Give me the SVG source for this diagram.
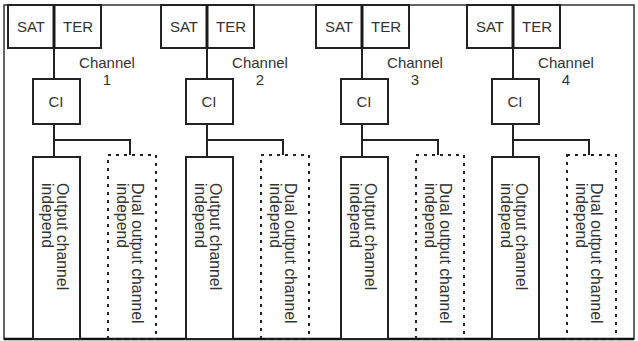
<svg xmlns="http://www.w3.org/2000/svg" width="638" height="341" viewBox="0 0 638 341">
<style>
.box{fill:#fff;stroke:#222;stroke-width:2}
.dot{fill:none;stroke:#222;stroke-width:2;stroke-dasharray:3 5}
.ln{fill:none;stroke:#222;stroke-width:2}
.div{fill:none;stroke:#1a1a1a;stroke-width:3}
.t{font-family:"Liberation Sans",Arial,sans-serif;font-size:15px;fill:#333}
.r{font-size:15.8px}
.c{text-anchor:middle}
</style>
<rect x="0" y="0" width="638" height="341" fill="#fff"/>
<rect x="4" y="5" width="630" height="334" fill="none" stroke="#333" stroke-width="1.5"/>
<line x1="4" y1="339" x2="634" y2="339" stroke="#111" stroke-width="2.5"/>
<g id="connectors">
<path class="ln" d="M54 48V79M54 124V157M54 140H130V155"/>
<path class="ln" d="M207 48V79M207 124V157M207 140H283V155"/>
<path class="ln" d="M362 48V79M362 124V157M362 140H438V155"/>
<path class="ln" d="M513 48V79M513 124V157M513 140H589V155"/>
</g>
<g id="col1">
<g id="sat1"><rect class="box" x="8" y="5" width="46" height="43"/><text class="t c" x="31" y="32">SAT</text></g>
<g id="ter1"><rect class="box" x="54" y="5" width="47" height="43"/><text class="t c" x="78" y="32">TER</text></g>
<line class="div" x1="54" y1="5" x2="54" y2="48"/>
<g id="label1"><text class="t c" x="107" y="68">Channel</text><text class="t c" x="107" y="85">1</text></g>
<g id="ci1"><rect class="box" x="33" y="79" width="47" height="45"/><text class="t c" x="56" y="107">CI</text></g>
<g id="out1"><rect class="box" x="33" y="157" width="47" height="182"/><text class="t r" transform="translate(57,183) rotate(90)"><tspan x="0" y="0">Output channel</tspan><tspan x="0" y="15">independ</tspan></text></g>
<g id="dual1"><rect class="dot" x="108" y="155" width="48" height="184"/><text class="t r" transform="translate(132,183) rotate(90)"><tspan x="0" y="0">Dual output channel</tspan><tspan x="0" y="15">independ</tspan></text></g>
</g>
<g id="col2">
<g id="sat2"><rect class="box" x="161" y="5" width="46" height="43"/><text class="t c" x="184" y="32">SAT</text></g>
<g id="ter2"><rect class="box" x="207" y="5" width="47" height="43"/><text class="t c" x="231" y="32">TER</text></g>
<line class="div" x1="207" y1="5" x2="207" y2="48"/>
<g id="label2"><text class="t c" x="260" y="68">Channel</text><text class="t c" x="260" y="85">2</text></g>
<g id="ci2"><rect class="box" x="186" y="79" width="47" height="45"/><text class="t c" x="209" y="107">CI</text></g>
<g id="out2"><rect class="box" x="186" y="157" width="47" height="182"/><text class="t r" transform="translate(210,183) rotate(90)"><tspan x="0" y="0">Output channel</tspan><tspan x="0" y="15">independ</tspan></text></g>
<g id="dual2"><rect class="dot" x="261" y="155" width="48" height="184"/><text class="t r" transform="translate(285,183) rotate(90)"><tspan x="0" y="0">Dual output channel</tspan><tspan x="0" y="15">independ</tspan></text></g>
</g>
<g id="col3">
<g id="sat3"><rect class="box" x="316" y="5" width="46" height="43"/><text class="t c" x="339" y="32">SAT</text></g>
<g id="ter3"><rect class="box" x="362" y="5" width="47" height="43"/><text class="t c" x="386" y="32">TER</text></g>
<line class="div" x1="362" y1="5" x2="362" y2="48"/>
<g id="label3"><text class="t c" x="415" y="68">Channel</text><text class="t c" x="415" y="85">3</text></g>
<g id="ci3"><rect class="box" x="341" y="79" width="47" height="45"/><text class="t c" x="364" y="107">CI</text></g>
<g id="out3"><rect class="box" x="341" y="157" width="47" height="182"/><text class="t r" transform="translate(365,183) rotate(90)"><tspan x="0" y="0">Output channel</tspan><tspan x="0" y="15">independ</tspan></text></g>
<g id="dual3"><rect class="dot" x="416" y="155" width="48" height="184"/><text class="t r" transform="translate(440,183) rotate(90)"><tspan x="0" y="0">Dual output channel</tspan><tspan x="0" y="15">independ</tspan></text></g>
</g>
<g id="col4">
<g id="sat4"><rect class="box" x="467" y="5" width="46" height="43"/><text class="t c" x="490" y="32">SAT</text></g>
<g id="ter4"><rect class="box" x="513" y="5" width="47" height="43"/><text class="t c" x="537" y="32">TER</text></g>
<line class="div" x1="513" y1="5" x2="513" y2="48"/>
<g id="label4"><text class="t c" x="566" y="68">Channel</text><text class="t c" x="566" y="85">4</text></g>
<g id="ci4"><rect class="box" x="492" y="79" width="47" height="45"/><text class="t c" x="515" y="107">CI</text></g>
<g id="out4"><rect class="box" x="492" y="157" width="47" height="182"/><text class="t r" transform="translate(516,183) rotate(90)"><tspan x="0" y="0">Output channel</tspan><tspan x="0" y="15">independ</tspan></text></g>
<g id="dual4"><rect class="dot" x="567" y="155" width="49" height="184"/><text class="t r" transform="translate(591,183) rotate(90)"><tspan x="0" y="0">Dual output channel</tspan><tspan x="0" y="15">independ</tspan></text></g>
</g>
</svg>
